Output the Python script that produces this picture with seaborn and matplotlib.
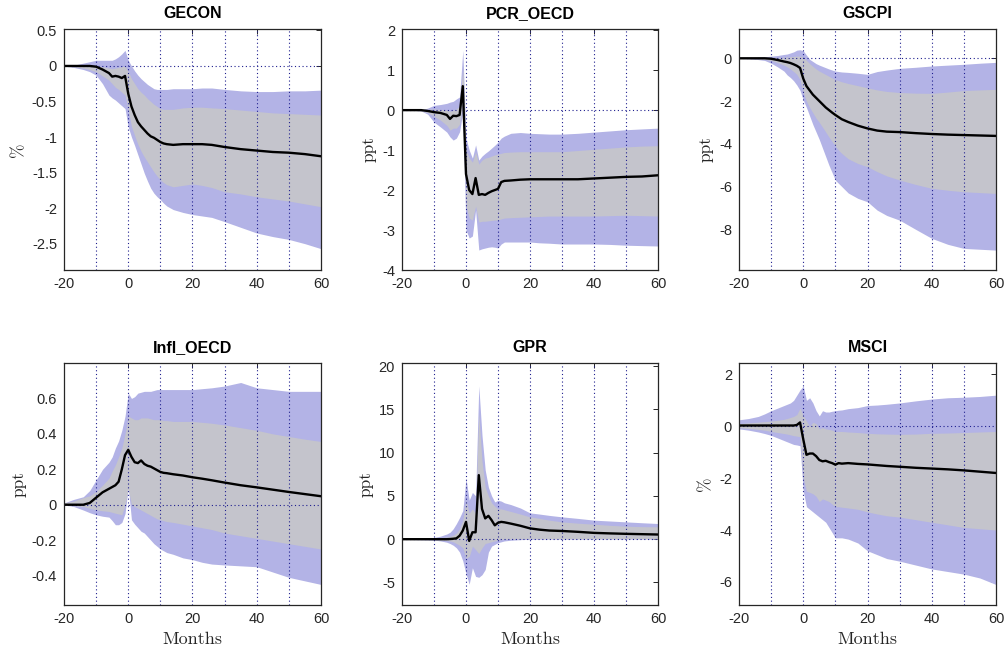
import numpy as np
import pandas as pd
import matplotlib
matplotlib.use("Agg")
import matplotlib.pyplot as plt
import seaborn as sns
from matplotlib.ticker import FuncFormatter, FixedLocator

# ---------------- data ----------------
months = [-20, -17, -14, -12, -10, -8, -6, -5, -4, -3, -2, -1, 0, 1, 2, 3, 4, 5, 6, 7, 8,
          9, 10, 11, 12, 14, 17, 20, 23, 26, 30, 35, 40, 45, 50, 55, 60]

titles = ["GECON", "PCR_OECD", "GSCPI", "Infl_OECD", "GPR", "MSCI"]
units = ["%", "ppt", "ppt", "ppt", "ppt", "%"]

# GECON
gecon_mean = [0, 0, 0, 0, -0.01, -0.05, -0.1, -0.15, -0.14, -0.15, -0.17, -0.14, -0.39, -0.57, -0.69, -0.79, -0.85, -0.90, -0.95, -0.99, -1.01,
              -1.04, -1.07, -1.09, -1.10, -1.11, -1.10, -1.10, -1.10, -1.11, -1.14, -1.17, -1.19, -1.21, -1.22, -1.24, -1.27]
gecon_in_hi = [0, 0, 0, 0, 0, -0.01, -0.03, -0.04, -0.03, -0.02, -0.01, 0.0, -0.08, -0.18, -0.25, -0.32, -0.37, -0.41, -0.46, -0.50, -0.54,
               -0.57, -0.6, -0.61, -0.61, -0.61, -0.59, -0.58, -0.58, -0.59, -0.6, -0.62, -0.64, -0.66, -0.67, -0.68, -0.69]
gecon_in_lo = [0, -0.01, -0.03, -0.05, -0.08, -0.14, -0.2, -0.25, -0.3, -0.33, -0.37, -0.41, -0.62, -0.85, -0.98, -1.1, -1.2, -1.28, -1.35, -1.42, -1.49,
               -1.55, -1.6, -1.64, -1.67, -1.70, -1.68, -1.66, -1.68, -1.71, -1.77, -1.80, -1.84, -1.87, -1.90, -1.94, -1.98]
gecon_out_hi = [0, 0.01, 0.04, 0.06, 0.08, 0.08, 0.08, 0.08, 0.1, 0.13, 0.17, 0.22, 0.08, 0.0, -0.07, -0.13, -0.18, -0.22, -0.26, -0.29, -0.32,
                -0.33, -0.33, -0.33, -0.33, -0.32, -0.32, -0.32, -0.31, -0.31, -0.33, -0.35, -0.36, -0.36, -0.35, -0.35, -0.34]
gecon_out_lo = [0, -0.02, -0.05, -0.08, -0.13, -0.25, -0.41, -0.45, -0.48, -0.52, -0.56, -0.6, -0.86, -1.0, -1.12, -1.25, -1.38, -1.51, -1.62, -1.72, -1.79,
                -1.84, -1.88, -1.93, -1.97, -2.02, -2.06, -2.09, -2.11, -2.13, -2.19, -2.27, -2.35, -2.40, -2.44, -2.50, -2.57]

# PCR_OECD
pcr_mean = [0, 0, 0, -0.02, -0.05, -0.07, -0.12, -0.22, -0.14, -0.15, -0.12, 0.6, -1.6, -2.0, -2.1, -1.7, -2.12, -2.1, -2.12, -2.07, -2.03,
            -2.0, -1.97, -1.8, -1.77, -1.76, -1.74, -1.73, -1.73, -1.73, -1.73, -1.73, -1.71, -1.69, -1.67, -1.66, -1.63]
pcr_in_hi = [0, 0, 0.01, 0.02, 0.03, 0.02, 0.0, -0.03, 0.0, 0.03, 0.1, 1.05, -1.0, -1.2, -1.3, -1.05, -1.35, -1.25, -1.2, -1.18, -1.15,
             -1.12, -1.1, -1.08, -1.06, -1.05, -1.04, -1.04, -1.04, -1.04, -1.04, -1.01, -0.98, -0.95, -0.92, -0.90, -0.89]
pcr_in_lo = [0, 0, -0.02, -0.06, -0.15, -0.25, -0.38, -0.5, -0.45, -0.45, -0.35, 0.2, -2.4, -2.7, -2.75, -2.4, -2.8, -2.78, -2.78, -2.77, -2.76,
             -2.75, -2.75, -2.72, -2.7, -2.69, -2.68, -2.67, -2.66, -2.65, -2.65, -2.65, -2.65, -2.64, -2.63, -2.64, -2.65]
pcr_out_hi = [0, 0, 0.01, 0.05, 0.12, 0.14, 0.17, 0.2, 0.22, 0.28, 0.33, 1.5, -0.7, -1.0, -1.2, -0.87, -1.25, -1.15, -1.08, -1.02, -0.95,
              -0.88, -0.8, -0.7, -0.65, -0.58, -0.56, -0.58, -0.59, -0.6, -0.6, -0.58, -0.55, -0.52, -0.49, -0.47, -0.45]
pcr_out_lo = [0, 0, -0.02, -0.1, -0.3, -0.42, -0.55, -0.67, -0.75, -0.7, -0.54, -0.04, -3.0, -3.2, -3.15, -2.5, -3.5, -3.47, -3.45, -3.43, -3.42,
              -3.43, -3.45, -3.35, -3.3, -3.3, -3.3, -3.3, -3.32, -3.33, -3.35, -3.35, -3.35, -3.36, -3.38, -3.39, -3.4]

# GSCPI
gscpi_mean = [0, 0, 0, 0, -0.02, -0.08, -0.15, -0.18, -0.22, -0.28, -0.35, -0.45, -0.95, -1.3, -1.5, -1.7, -1.85, -2.0, -2.15, -2.3, -2.42,
              -2.54, -2.65, -2.75, -2.85, -2.98, -3.15, -3.28, -3.38, -3.43, -3.45, -3.5, -3.54, -3.57, -3.59, -3.61, -3.63]
gscpi_in_hi = [0, 0, 0, 0.01, 0.02, 0.03, 0.05, 0.06, 0.07, 0.09, 0.1, 0.1, 0.05, -0.1, -0.25, -0.38, -0.5, -0.6, -0.68, -0.76, -0.84,
               -0.92, -1.0, -1.05, -1.1, -1.18, -1.28, -1.38, -1.48, -1.55, -1.6, -1.63, -1.64, -1.58, -1.51, -1.48, -1.45]
gscpi_in_lo = [0, -0.01, -0.03, -0.05, -0.1, -0.2, -0.32, -0.4, -0.5, -0.62, -0.75, -1.0, -1.6, -2.0, -2.3, -2.55, -2.8, -3.0, -3.22, -3.45, -3.68,
               -3.9, -4.1, -4.3, -4.45, -4.7, -4.92, -5.07, -5.3, -5.5, -5.69, -5.9, -6.08, -6.17, -6.24, -6.28, -6.32]
gscpi_out_hi = [0, 0.02, 0.05, 0.07, 0.1, 0.13, 0.18, 0.2, 0.25, 0.3, 0.38, 0.4, 0.35, 0.15, -0.05, -0.15, -0.25, -0.32, -0.38, -0.44, -0.5,
                -0.55, -0.6, -0.62, -0.64, -0.66, -0.7, -0.75, -0.62, -0.55, -0.47, -0.42, -0.36, -0.32, -0.28, -0.23, -0.19]
gscpi_out_lo = [0, -0.02, -0.06, -0.1, -0.23, -0.4, -0.6, -0.78, -0.9, -1.05, -1.25, -1.5, -1.95, -2.3, -2.7, -3.1, -3.45, -3.8, -4.2, -4.6, -5.0,
                -5.35, -5.7, -5.85, -6.0, -6.3, -6.55, -6.71, -7.1, -7.35, -7.57, -8.0, -8.42, -8.7, -8.89, -8.93, -8.97]

# Infl_OECD
infl_mean = [0.0, 0.0, 0.0, 0.01, 0.04, 0.07, 0.09, 0.1, 0.11, 0.13, 0.2, 0.28, 0.31, 0.27, 0.24, 0.235, 0.25, 0.23, 0.22, 0.215, 0.205,
             0.195, 0.185, 0.18, 0.178, 0.172, 0.165, 0.155, 0.147, 0.138, 0.125, 0.11, 0.098, 0.085, 0.072, 0.06, 0.048]
infl_in_hi = [0.01, 0.02, 0.04, 0.05, 0.075, 0.11, 0.15, 0.19, 0.225, 0.27, 0.32, 0.4, 0.5, 0.49, 0.48, 0.48, 0.49, 0.49, 0.49, 0.485, 0.48,
              0.48, 0.48, 0.475, 0.475, 0.47, 0.47, 0.47, 0.465, 0.46, 0.45, 0.435, 0.42, 0.4, 0.385, 0.37, 0.357]
infl_in_lo = [0, -0.005, -0.01, -0.02, -0.029, -0.034, -0.038, -0.043, -0.048, -0.052, -0.057, 0.0, 0.09, 0.0, -0.01, -0.02, -0.03, -0.04, -0.05, -0.06, -0.07,
              -0.08, -0.085, -0.09, -0.095, -0.1, -0.11, -0.12, -0.13, -0.14, -0.16, -0.175, -0.19, -0.205, -0.22, -0.235, -0.25]
infl_out_hi = [0.01, 0.03, 0.045, 0.08, 0.14, 0.2, 0.24, 0.27, 0.32, 0.36, 0.42, 0.5, 0.63, 0.6, 0.61, 0.63, 0.635, 0.64, 0.64, 0.64, 0.645,
               0.65, 0.65, 0.65, 0.65, 0.65, 0.65, 0.65, 0.655, 0.66, 0.67, 0.69, 0.66, 0.65, 0.64, 0.64, 0.64]
infl_out_lo = [0, -0.01, -0.03, -0.045, -0.057, -0.065, -0.07, -0.09, -0.113, -0.113, -0.1, -0.05, 0.1, -0.085, -0.11, -0.13, -0.15, -0.16, -0.18, -0.2, -0.22,
               -0.235, -0.25, -0.26, -0.27, -0.28, -0.3, -0.31, -0.325, -0.335, -0.34, -0.345, -0.35, -0.38, -0.41, -0.43, -0.45]

# GPR
gpr_mean = [0, 0, 0, 0, 0, 0, 0.0, 0.02, 0.05, 0.1, 0.4, 1.0, 2.0, -0.2, 0.8, 0.8, 7.4, 3.5, 2.4, 2.7, 2.2,
            1.6, 1.9, 2.0, 1.95, 1.8, 1.55, 1.25, 1.1, 1.0, 0.95, 0.85, 0.73, 0.67, 0.62, 0.58, 0.54]
gpr_in_hi = [0.02, 0.04, 0.06, 0.08, 0.1, 0.15, 0.25, 0.3, 0.45, 0.7, 1.2, 2.2, 4.5, 3.0, 3.5, 3.0, 14.5, 9.0, 6.0, 5.0, 4.2,
             3.8, 3.5, 3.5, 3.4, 3.2, 2.9, 2.58, 2.4, 2.2, 2.0, 1.85, 1.73, 1.6, 1.5, 1.45, 1.43]
gpr_in_lo = [-0.01, -0.02, -0.03, -0.04, -0.05, -0.1, -0.15, -0.2, -0.3, -0.5, -0.7, -1.0, -2.2, -2.0, -0.8, -1.2, -1.65, -1.0, -0.5, -0.4, -0.3,
             -0.2, -0.1, -0.05, 0.0, 0.0, 0.02, 0.05, 0.05, 0.05, 0.05, 0.05, 0.05, 0.05, 0.05, 0.05, 0.05]
gpr_out_hi = [0.03, 0.06, 0.1, 0.15, 0.2, 0.35, 0.6, 0.8, 1.2, 1.8, 2.5, 3.3, 7.0, 4.5, 5.4, 5.0, 17.7, 12.0, 8.0, 6.0, 5.0,
              4.3, 4.5, 4.4, 4.2, 4.0, 3.6, 3.04, 2.9, 2.75, 2.58, 2.4, 2.2, 2.1, 2.0, 1.9, 1.81]
gpr_out_lo = [-0.02, -0.04, -0.06, -0.08, -0.1, -0.2, -0.35, -0.5, -0.7, -1.0, -1.5, -2.5, -4.0, -5.2, -3.3, -4.3, -4.4, -4.1, -3.5, -1.5, -0.8,
              -0.6, -0.4, -0.3, -0.2, -0.12, -0.05, 0.0, 0.01, 0.02, 0.02, 0.02, 0.03, 0.03, 0.03, 0.03, 0.03]

# MSCI
msci_mean = [0.03, 0.03, 0.03, 0.03, 0.03, 0.03, 0.03, 0.03, 0.03, 0.03, 0.05, 0.15, -0.5, -1.1, -1.05, -1.05, -1.15, -1.3, -1.35, -1.33, -1.38,
             -1.42, -1.48, -1.42, -1.44, -1.42, -1.45, -1.47, -1.5, -1.53, -1.56, -1.6, -1.63, -1.66, -1.7, -1.75, -1.8]
msci_in_hi = [0.1, 0.13, 0.16, 0.18, 0.2, 0.23, 0.27, 0.3, 0.34, 0.38, 0.45, 0.7, 0.4, 0.2, 0.0, 0.15, 0.1, -0.1, -0.05, -0.1, -0.12,
              -0.15, -0.2, -0.2, -0.2, -0.22, -0.24, -0.27, -0.29, -0.3, -0.31, -0.3, -0.27, -0.26, -0.24, -0.22, -0.2]
msci_in_lo = [-0.05, -0.08, -0.12, -0.15, -0.2, -0.24, -0.28, -0.3, -0.33, -0.36, -0.38, -0.4, -2.0, -2.5, -2.55, -2.6, -2.7, -2.9, -2.8, -2.85, -2.9,
              -3.0, -3.1, -3.1, -3.12, -3.15, -3.2, -3.3, -3.38, -3.45, -3.5, -3.6, -3.7, -3.8, -3.9, -3.95, -4.0]
msci_out_hi = [0.25, 0.3, 0.38, 0.48, 0.6, 0.7, 0.8, 0.85, 0.9, 1.0, 1.2, 1.4, 1.55, 1.0, 1.1, 0.9, 0.6, 0.4, 0.6, 0.55, 0.55,
               0.58, 0.6, 0.62, 0.63, 0.68, 0.72, 0.8, 0.82, 0.85, 0.9, 0.98, 1.05, 1.1, 1.12, 1.15, 1.2]
msci_out_lo = [-0.1, -0.15, -0.22, -0.28, -0.35, -0.45, -0.55, -0.6, -0.65, -0.7, -0.72, -0.75, -2.5, -3.1, -3.2, -3.3, -3.4, -3.5, -3.6, -3.7, -3.9,
               -4.1, -4.3, -4.3, -4.3, -4.35, -4.5, -4.8, -4.95, -5.1, -5.2, -5.35, -5.5, -5.6, -5.7, -5.85, -6.1]

series = [
    (gecon_mean, gecon_in_lo, gecon_in_hi, gecon_out_lo, gecon_out_hi),
    (pcr_mean, pcr_in_lo, pcr_in_hi, pcr_out_lo, pcr_out_hi),
    (gscpi_mean, gscpi_in_lo, gscpi_in_hi, gscpi_out_lo, gscpi_out_hi),
    (infl_mean, infl_in_lo, infl_in_hi, infl_out_lo, infl_out_hi),
    (gpr_mean, gpr_in_lo, gpr_in_hi, gpr_out_lo, gpr_out_hi),
    (msci_mean, msci_in_lo, msci_in_hi, msci_out_lo, msci_out_hi),
]

ylims = [(-2.87, 0.52), (-4.0, 2.03), (-9.9, 1.37), (-0.566, 0.80), (-7.6, 20.35), (-6.89, 2.44)]
yticks = [[-2.5, -2, -1.5, -1, -0.5, 0, 0.5], [-4, -3, -2, -1, 0, 1, 2], [-8, -6, -4, -2, 0],
          [-0.4, -0.2, 0, 0.2, 0.4, 0.6], [-5, 0, 5, 10, 15, 20], [-6, -4, -2, 0, 2]]
xticks = [-20, 0, 20, 40, 60]
vlines = [-10, 0, 10, 20, 30, 40, 50]

# ---------------- style ----------------
sns.set_theme(style="white")
plt.rcParams["font.family"] = ["Liberation Sans", "DejaVu Sans"]
plt.rcParams["xtick.direction"] = "in"
plt.rcParams["ytick.direction"] = "in"
plt.rcParams["axes.edgecolor"] = "#262626"
plt.rcParams["axes.linewidth"] = 0.9

outer_col = "#b3b3e6"
inner_col = "#c4c4cc"
grid_col = "#1f1f8f"
serif = ["cmr10", "DejaVu Serif"]

fig = plt.figure(figsize=(10.06, 6.55), dpi=100)
W, H = 1006, 655
lefts = [64, 402, 739]
widths = [257, 256, 257]
rows = [(29, 270), (363, 605)]

fmt = FuncFormatter(lambda v, _: f"{v:g}")

for i in range(6):
    r, c = divmod(i, 3)
    top, bot = rows[r]
    ax = fig.add_axes([lefts[c] / W, 1 - bot / H, widths[c] / W, (bot - top) / H])
    mean, in_lo, in_hi, out_lo, out_hi = series[i]
    df = pd.DataFrame({"Months": months, "mean": mean})
    ax.fill_between(months, out_lo, out_hi, color=outer_col, lw=0, zorder=1)
    ax.fill_between(months, in_lo, in_hi, color=inner_col, lw=0, zorder=2)
    sns.lineplot(data=df, x="Months", y="mean", ax=ax, color="black", lw=1.7, zorder=4)
    for v in vlines:
        ax.axvline(v, color=grid_col, ls=(0, (1, 2.4)), lw=0.8, zorder=3)
    ax.axhline(0, color=grid_col, ls=(0, (1, 2.4)), lw=0.8, zorder=3)
    ax.set_xlim(-20, 60)
    ax.set_ylim(*ylims[i])
    ax.xaxis.set_major_locator(FixedLocator(xticks))
    ax.yaxis.set_major_locator(FixedLocator(yticks[i]))
    ax.xaxis.set_major_formatter(fmt)
    ax.yaxis.set_major_formatter(fmt)
    ax.tick_params(axis="both", which="both", direction="in", length=3.5, width=0.7,
                   top=True, right=True, labelsize=10.5, colors="#262626", pad=5)
    for lab in ax.get_xticklabels() + ax.get_yticklabels():
        lab.set_color("#262626")
    ax.set_title(titles[i], fontsize=11.5, fontweight="bold", pad=8, color="black")
    ax.set_ylabel(units[i], fontsize=12.5, family=serif, color="#262626", labelpad=4)
    if r == 1:
        ax.set_xlabel("Months", fontsize=13, family=serif, color="#262626", labelpad=4)
    else:
        ax.set_xlabel("")
    for s in ax.spines.values():
        s.set_visible(True)
        s.set_zorder(5)

fig.savefig("out.png", dpi=100)
